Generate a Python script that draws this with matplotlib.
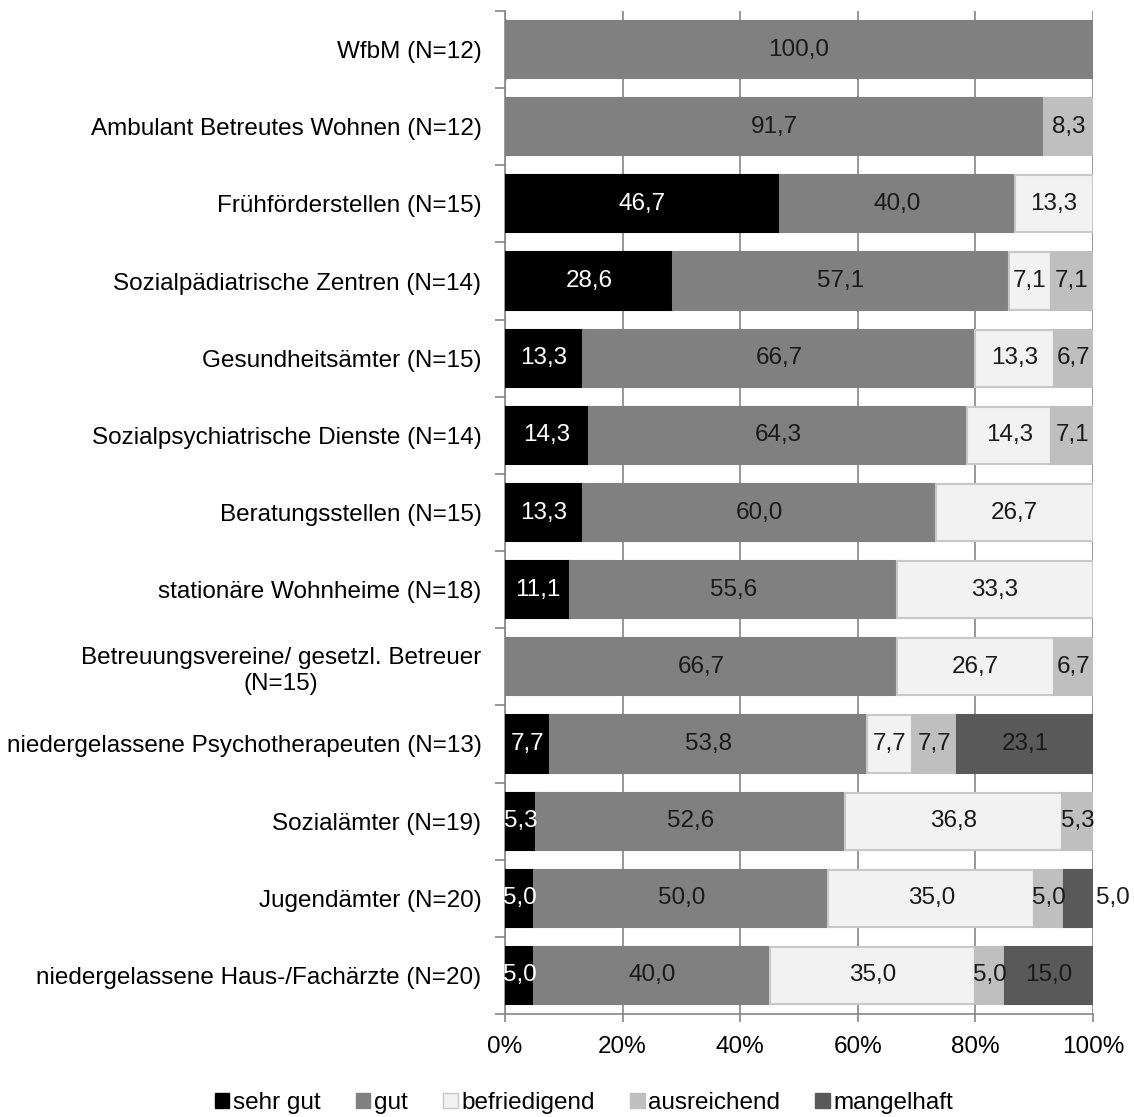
import matplotlib.pyplot as plt
import numpy as np

plt.rcParams['font.family'] = ['Liberation Sans', 'DejaVu Sans']

# categories from top to bottom
categories = ["WfbM (N=12)",
              "Ambulant Betreutes Wohnen (N=12)",
              "Frühförderstellen (N=15)",
              "Sozialpädiatrische Zentren (N=14)",
              "Gesundheitsämter (N=15)",
              "Sozialpsychiatrische Dienste (N=14)",
              "Beratungsstellen (N=15)",
              "stationäre Wohnheime (N=18)",
              "Betreuungsvereine/ gesetzl. Betreuer\n(N=15)",
              "niedergelassene Psychotherapeuten (N=13)",
              "Sozialämter (N=19)",
              "Jugendämter (N=20)",
              "niedergelassene Haus-/Fachärzte (N=20)"]

sehr_gut     = [0, 0, 46.7, 28.6, 13.3, 14.3, 13.3, 11.1, 0, 7.7, 5.3, 5.0, 5.0]
gut          = [100.0, 91.7, 40.0, 57.1, 66.7, 64.3, 60.0, 55.6, 66.7, 53.8, 52.6, 50.0, 40.0]
befriedigend = [0, 0, 13.3, 7.1, 13.3, 14.3, 26.7, 33.3, 26.7, 7.7, 36.8, 35.0, 35.0]
ausreichend  = [0, 8.3, 0, 7.1, 6.7, 7.1, 0, 0, 6.7, 7.7, 5.3, 5.0, 5.0]
mangelhaft   = [0, 0, 0, 0, 0, 0, 0, 0, 0, 23.1, 0, 5.0, 15.0]

series_names = ["sehr gut", "gut", "befriedigend", "ausreichend", "mangelhaft"]
series = [sehr_gut, gut, befriedigend, ausreichend, mangelhaft]
colors = ["#000000", "#808080", "#f2f2f2", "#bfbfbf", "#595959"]
edges = ["#000000", "#808080", "#c8c8c8", "#bfbfbf", "#595959"]
textcol = ["white", "#1a1a1a", "#1a1a1a", "#1a1a1a", "#1a1a1a"]
fs = 17.5

fig = plt.figure(figsize=(11.34, 11.17), dpi=100)
ax = fig.add_axes([505/1134, 1 - 1014/1117, 588/1134, 1003/1117])

y = np.arange(len(categories))
left = np.zeros(len(categories))
for k in range(5):
    vals = np.array(series[k])
    nz = vals > 0
    ax.barh(y[nz], vals[nz], left=left[nz], height=0.74, color=colors[k],
            edgecolor=edges[k], linewidth=1.5, zorder=3)
    # legend handle
    ax.barh([0], [0], color=colors[k], edgecolor=edges[k], linewidth=1.0,
            label=series_names[k])
    for i in range(len(categories)):
        v = vals[i]
        if v <= 0:
            continue
        lab = f"{v:.1f}".replace(".", ",")
        if k == 4 and v < 6:
            ax.text(left[i] + v + 0.5, y[i], lab, ha='left', va='center',
                    fontsize=fs, color='#1a1a1a', zorder=4, clip_on=False)
        else:
            ax.text(left[i] + v / 2, y[i], lab, ha='center', va='center',
                    fontsize=fs, color=textcol[k], zorder=4)
    left = left + vals

ax.set_xlim(0, 100)
ax.set_ylim(len(categories) - 0.5, -0.5)
ax.set_xticks(np.arange(0, 101, 20))
ax.set_xticklabels([f"{t}%" for t in range(0, 101, 20)])
ax.set_yticks(y)
ax.set_yticklabels(categories)
for t in ax.get_yticklabels():
    t.set_multialignment('center')
ax.set_yticks(np.arange(-0.5, len(categories), 1), minor=True)
ax.tick_params(axis='y', which='major', length=0, pad=17, labelsize=fs)
ax.tick_params(axis='y', which='minor', length=7, color='#868686', width=1.2)
ax.tick_params(axis='x', length=6, color='#868686', width=1.2, pad=10, labelsize=fs)

ax.grid(axis='x', color='#868686', linewidth=1.2, zorder=0)
for s in ['top', 'right']:
    ax.spines[s].set_visible(False)
for s in ['left', 'bottom']:
    ax.spines[s].set_color('#868686')
    ax.spines[s].set_linewidth(1.2)

fig.legend(loc='center', bbox_to_anchor=(0.515, 0.0125), ncol=5, frameon=False,
           fontsize=fs, handlelength=0.6, handleheight=0.6, handletextpad=0.15,
           columnspacing=1.45)

fig.savefig("out.png", dpi=100)
